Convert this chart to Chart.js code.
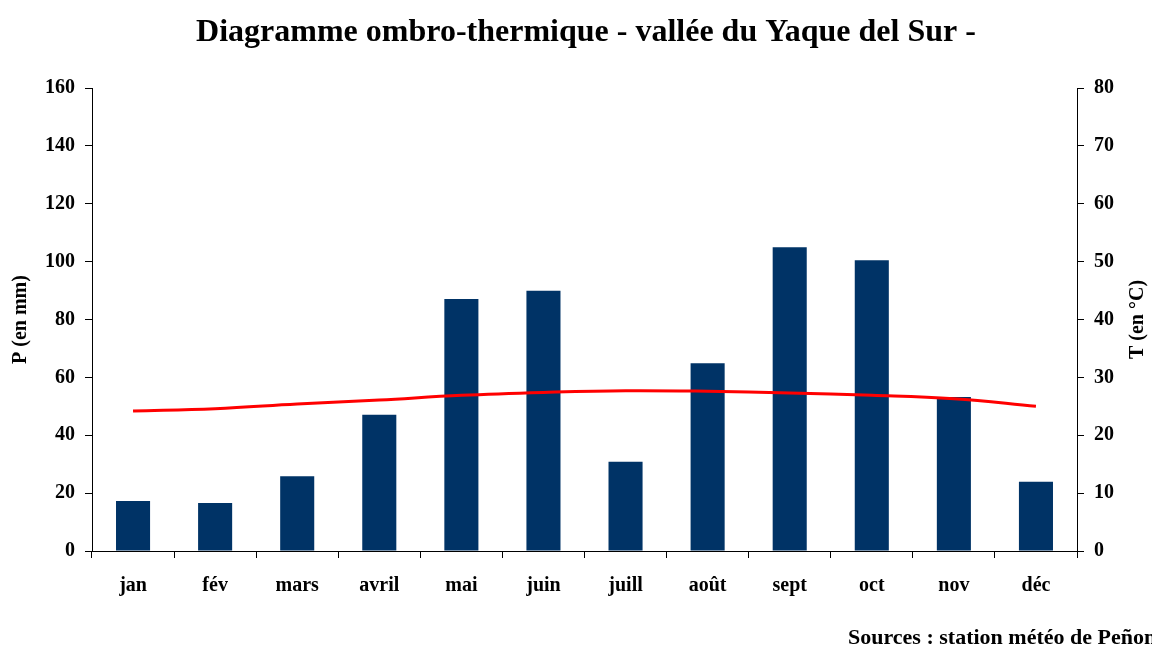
<!DOCTYPE html>
<html>
<head>
<meta charset="utf-8">
<script src="https://cdn.jsdelivr.net/npm/chart.js@4.4.1/dist/chart.umd.min.js"></script>
<style>
  html, body { margin: 0; padding: 0; background: #fff; }
  #wrap { width: 1152px; height: 648px; }
</style>
</head>
<body>
<div id="wrap"><canvas id="chart" width="1152" height="648"></canvas></div>
<script>
const months = ["jan", "fév", "mars", "avril", "mai", "juin", "juill", "août", "sept", "oct", "nov", "déc"];
const precipitation = [17.3, 16.6, 25.8, 47.1, 87.1, 89.9, 30.8, 64.9, 105.0, 100.5, 53.2, 23.9];
const temperature = [24.2, 24.6, 25.4, 26.1, 26.9, 27.4, 27.7, 27.6, 27.3, 26.9, 26.3, 25.0];
const pTicks = [0, 20, 40, 60, 80, 100, 120, 140, 160];
const tTicks = [0, 10, 20, 30, 40, 50, 60, 70, 80];

const serif = "'Liberation Serif', 'Times New Roman', serif";
const tickFont = { family: serif, size: 20, weight: "bold" };

// titles and footer drawn straight on the canvas
const textPlugin = {
  id: "texts",
  afterDraw(chart) {
    const ctx = chart.ctx;
    const area = chart.chartArea;
    const midY = (area.top + area.bottom) / 2;
    ctx.save();
    ctx.fillStyle = "#000";
    ctx.textBaseline = "middle";

    ctx.font = "bold 32px " + serif;
    ctx.textAlign = "center";
    ctx.fillText("Diagramme ombro-thermique - vallée du Yaque del Sur -", 586, 33);

    ctx.font = "bold 20px " + serif;
    ctx.save();
    ctx.translate(21, midY);
    ctx.rotate(-Math.PI / 2);
    ctx.fillText("P (en mm)", 0, 0);
    ctx.restore();

    ctx.save();
    ctx.translate(1138, midY);
    ctx.rotate(-Math.PI / 2);
    ctx.fillText("T (en °C)", 0, 0);
    ctx.restore();

    ctx.font = "bold 22px " + serif;
    ctx.textAlign = "left";
    ctx.fillText("Sources : station météo de Peñon", 848, 638);
    ctx.restore();
  }
};

const ctx = document.getElementById("chart").getContext("2d");

new Chart(ctx, {
  data: {
    labels: months,
    datasets: [
      {
        type: "line",
        label: "T",
        data: temperature,
        yAxisID: "y1",
        borderColor: "#ff0000",
        borderWidth: 3,
        tension: 0.4,
        pointRadius: 0,
        fill: false,
        order: 0,
      },
      {
        type: "bar",
        label: "P",
        data: precipitation,
        yAxisID: "y",
        backgroundColor: "#003366",
        barPercentage: 1,
        categoryPercentage: 0.415,
        order: 1,
      },
    ],
  },
  options: {
    responsive: false,
    animation: false,
    layout: { padding: { top: 88, left: 0, right: 0, bottom: 0 } },
    plugins: {
      legend: { display: false },
      tooltip: { enabled: false },
      title: { display: false },
    },
    scales: {
      x: {
        offset: true,
        grid: { offset: true, drawOnChartArea: false, drawTicks: true, tickLength: 7, tickColor: "#000" },
        border: { display: true, color: "#000", width: 1 },
        ticks: { font: tickFont, color: "#000", padding: 16, maxRotation: 0 },
        afterFit(scale) { scale.height = 97; },
      },
      y: {
        position: "left",
        min: 0,
        max: 160,
        afterBuildTicks(scale) { scale.ticks = pTicks.map(v => ({ value: v })); },
        grid: { drawOnChartArea: false, drawTicks: true, tickLength: 7, tickColor: "#000" },
        border: { display: true, color: "#000", width: 1 },
        ticks: { font: tickFont, color: "#000", padding: 10 },
        afterFit(scale) { scale.width = 92; },
      },
      y1: {
        position: "right",
        min: 0,
        max: 80,
        afterBuildTicks(scale) { scale.ticks = tTicks.map(v => ({ value: v })); },
        grid: { drawOnChartArea: false, drawTicks: true, tickLength: 7, tickColor: "#000" },
        border: { display: true, color: "#000", width: 1 },
        ticks: { font: tickFont, color: "#000", padding: 10 },
        afterFit(scale) { scale.width = 75; },
      },
    },
  },
  plugins: [textPlugin],
});
</script>
</body>
</html>
